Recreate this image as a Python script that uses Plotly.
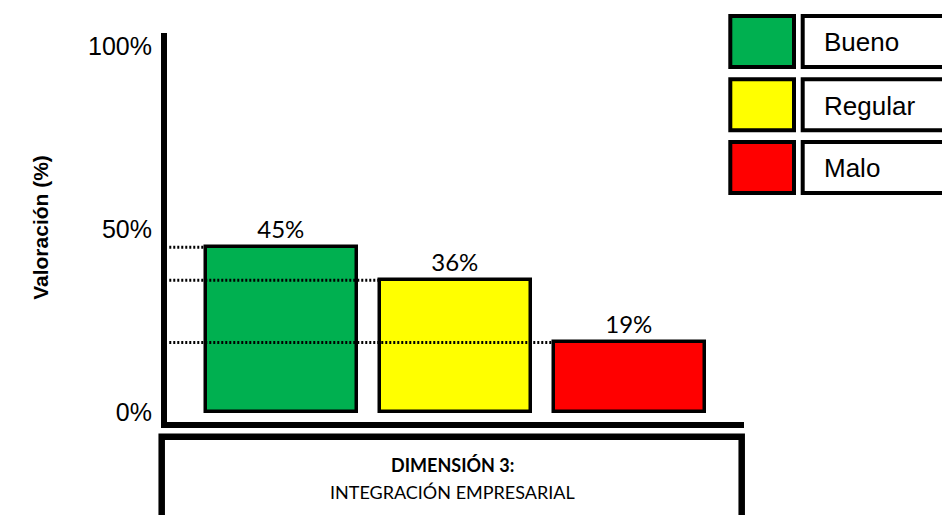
import plotly.graph_objects as go

# ---- data ----
categories = ["Bueno", "Regular", "Malo"]
values = [45, 36, 19]
bar_labels = ["45%", "36%", "19%"]
colors = ["#00B050", "#FFFF00", "#FF0000"]
tick_values = [0, 50, 100]
tick_labels = ["0%", "50%", "100%"]
y_title = "Valoración (%)"
box_title = "DIMENSIÓN 3:"
box_subtitle = "INTEGRACIÓN EMPRESARIAL"

# ---- layout geometry (pixels) ----
W, H = 942, 515
L, R, T, B = 167, 198, 33, 93
PW, PH = W - L - R, H - T - B

def px(xp):
    return (xp - L) / PW

def py(yp):
    return (H - B - yp) / PH

BAR_W = 0.867
K = 3.66  # px per percent

fig = go.Figure()
fig.add_trace(go.Bar(
    x=categories, y=values,
    width=BAR_W,
    marker=dict(color=colors, line=dict(color="black", width=3.5)),
    text=bar_labels, textposition="outside",
    textfont=dict(family="Lato", size=24, color="black"),
    cliponaxis=False, hoverinfo="skip", showlegend=False,
))

shapes = []
# dotted guide lines from the y axis to each bar's left edge
for i, v in enumerate(values):
    shapes.append(dict(type="line", xref="x", yref="y",
                       x0=-0.643, x1=i - BAR_W / 2, y0=v, y1=v,
                       line=dict(color="black", width=3, dash="2px,2px"),
                       layer="above"))

# custom legend boxes
row_tops = [16, 79.3, 142]
row_h = 51
for i, (c, name) in enumerate(zip(colors, categories)):
    y0p = row_tops[i]
    shapes.append(dict(type="rect", xref="paper", yref="paper",
                       x0=px(730.3), x1=px(794), y0=py(y0p + row_h), y1=py(y0p),
                       fillcolor=c, line=dict(color="black", width=4)))
    shapes.append(dict(type="rect", xref="paper", yref="paper",
                       x0=px(802.7), x1=px(960), y0=py(y0p + row_h), y1=py(y0p),
                       fillcolor="white", line=dict(color="black", width=4)))

# bottom category box
shapes.append(dict(type="rect", xref="paper", yref="paper",
                   x0=px(161.7), x1=px(741.7), y0=py(530), y1=py(436.7),
                   fillcolor="rgba(0,0,0,0)", line=dict(color="black", width=6.5)))

annotations = []
for i, name in enumerate(categories):
    annotations.append(dict(xref="paper", yref="paper", x=px(822), y=py(row_tops[i] + row_h / 2 + 1),
                            text=name, showarrow=False, xanchor="left", yanchor="middle",
                            font=dict(family="Liberation Sans", size=26, color="black")))
annotations.append(dict(xref="paper", yref="paper", x=px(452), y=py(465),
                        text=f"<b>{box_title}</b>", showarrow=False,
                        xanchor="center", yanchor="middle",
                        font=dict(family="Lato", size=18, color="black")))
annotations.append(dict(xref="paper", yref="paper", x=px(452), y=py(492),
                        text=box_subtitle, showarrow=False,
                        xanchor="center", yanchor="middle",
                        font=dict(family="Lato", size=18, color="black")))

fig.update_layout(
    width=W, height=H,
    margin=dict(l=L, r=R, t=T, b=B, pad=0),
    paper_bgcolor="white", plot_bgcolor="white",
    shapes=shapes, annotations=annotations,
    bargap=0,
    xaxis=dict(type="category", range=[-0.656, 2.655], showticklabels=False,
               showline=True, linewidth=5.5, linecolor="black",
               showgrid=False, zeroline=False, ticks="", fixedrange=True),
    yaxis=dict(range=[-10 / K, (H - B - 10 - T) / K],
               tickvals=tick_values, ticktext=tick_labels,
               tickfont=dict(family="Liberation Sans", size=25, color="black"),
               showline=True, linewidth=6, linecolor="black",
               showgrid=False, zeroline=False, ticks="", ticklabelstandoff=4,
               title=dict(text=y_title, standoff=36,
                          font=dict(family="Liberation Sans", size=21, color="black", weight="bold")),
               fixedrange=True),
)

fig.write_html("out.html", config={"displayModeBar": False},
               post_script="document.body.style.margin='0';document.body.style.padding='0';")
